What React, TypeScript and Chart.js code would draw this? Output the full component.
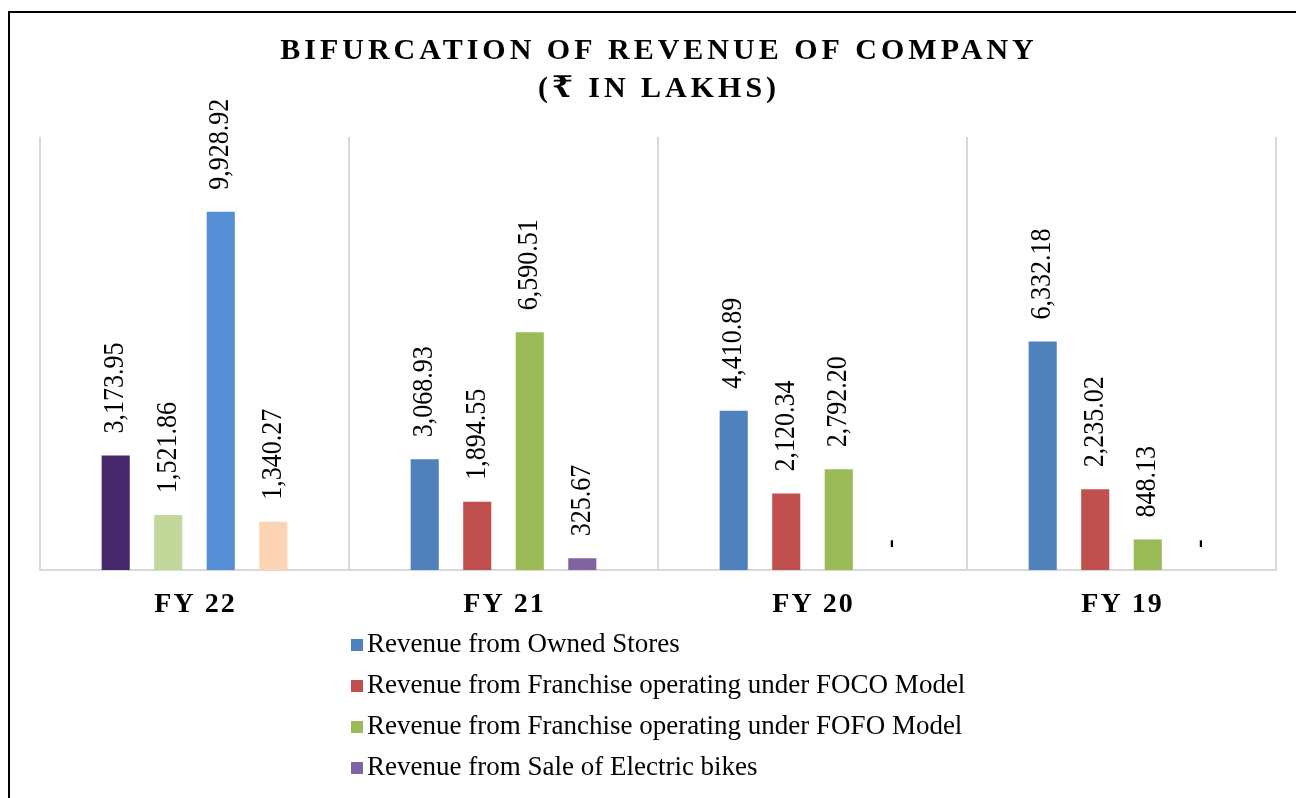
import React, { useEffect, useRef } from "react";
import { Chart, registerables } from "chart.js";

Chart.register(...registerables);

const categories = ["FY 22", "FY 21", "FY 20", "FY 19"];
const seriesNames = [
  "Revenue from Owned Stores",
  "Revenue from Franchise operating under FOCO Model",
  "Revenue from Franchise operating under FOFO Model",
  "Revenue from Sale of Electric bikes",
];
const ownedStores = [3173.95, 3068.93, 4410.89, 6332.18];
const focoModel = [1521.86, 1894.55, 2120.34, 2235.02];
const fofoModel = [9928.92, 6590.51, 2792.2, 848.13];
const electricBikes = [1340.27, 325.67, 0, 0];

const seriesColors = ["#4F81BD", "#C0504D", "#9BBB59", "#8064A2"];
const fy22Colors = ["#48286C", "#C4D79B", "#558ED5", "#FBD4B4"];
const titleLines = ["BIFURCATION OF REVENUE OF COMPANY", "(₹ IN LAKHS)"];

const SERIF = "'Liberation Serif', 'Times New Roman', 'DejaVu Serif', serif";

const fmt = (v: number) =>
  v === 0
    ? "-"
    : v.toLocaleString("en-US", { minimumFractionDigits: 2, maximumFractionDigits: 2 });

const customDraw = {
  id: "customDraw",
  afterDraw(chart: any) {
    const ctx = chart.ctx as CanvasRenderingContext2D;
    // Title
    ctx.save();
    ctx.fillStyle = "#000";
    ctx.font = `bold 30px ${SERIF}`;
    ctx.textAlign = "center";
    ctx.textBaseline = "middle";
    (ctx as any).letterSpacing = "4px";
    ctx.fillText(titleLines[0], 649, 38);
    ctx.fillText(titleLines[1], 649, 76);
    ctx.restore();

    // X labels
    const xs = chart.scales.x;
    ctx.save();
    ctx.fillStyle = "#000";
    ctx.font = `bold 28px ${SERIF}`;
    ctx.textAlign = "center";
    ctx.textBaseline = "middle";
    (ctx as any).letterSpacing = "2px";
    categories.forEach((c, i) => {
      ctx.fillText(c, xs.getPixelForTick(i) + 1, 592);
    });
    ctx.restore();

    // Data labels
    ctx.save();
    ctx.fillStyle = "#000";
    ctx.font = `26px ${SERIF}`;
    ctx.textAlign = "left";
    ctx.textBaseline = "middle";
    chart.data.datasets.forEach((ds: any, di: number) => {
      const meta = chart.getDatasetMeta(di);
      meta.data.forEach((bar: any, i: number) => {
        const v = ds.data[i];
        ctx.save();
        ctx.translate(bar.x, bar.y - 22);
        ctx.rotate(-Math.PI / 2);
        ctx.scale(1, 1.12);
        ctx.fillText(fmt(v), 0, 0);
        ctx.restore();
      });
    });
    ctx.restore();

    // Legend
    ctx.save();
    ctx.font = `27px ${SERIF}`;
    ctx.textAlign = "left";
    ctx.textBaseline = "middle";
    seriesNames.forEach((name, i) => {
      const cy = 632 + i * 41;
      ctx.fillStyle = seriesColors[i];
      ctx.fillRect(341, cy - 6, 12, 12);
      ctx.fillStyle = "#000";
      ctx.fillText(name, 357, cy);
    });
    ctx.restore();
  },
};

export default function App() {
  const ref = useRef<HTMLCanvasElement | null>(null);
  useEffect(() => {
    if (!ref.current) return;
    const seriesData = [ownedStores, focoModel, fofoModel, electricBikes];
    const chart = new Chart(ref.current, {
      type: "bar",
      data: {
        labels: categories,
        datasets: seriesData.map((d, si) => ({
          label: seriesNames[si],
          data: d,
          backgroundColor: d.map((_, ci) => (ci === 0 ? fy22Colors[si] : seriesColors[si])),
          borderWidth: 0,
          categoryPercentage: 0.68,
          barPercentage: 0.535,
        })),
      },
      options: {
        animation: false,
        responsive: false,
        maintainAspectRatio: false,
        layout: { padding: { left: 30, right: 20, top: 124, bottom: 228 } },
        plugins: {
          legend: { display: false },
          title: { display: false },
          tooltip: { enabled: false },
        },
        scales: {
          x: {
            display: true,
            grid: {
              display: true,
              offset: true,
              color: "#D9D9D9",
              lineWidth: 2,
              drawTicks: false,
              tickLength: 0,
            },
            border: { display: true, color: "#D9D9D9", width: 2 },
            ticks: { display: false },
          },
          y: {
            display: false,
            min: 0,
            max: 12000,
          },
        },
      },
      plugins: [customDraw],
    });
    return () => chart.destroy();
  }, []);

  return (
    <div
      style={{
        position: "fixed",
        left: 8,
        top: 11,
        width: 1288,
        height: 787,
        boxSizing: "border-box",
        borderTop: "2px solid #000",
        borderLeft: "2px solid #000",
        background: "#fff",
      }}
    >
      <canvas ref={ref} width={1286} height={785} style={{ display: "block" }} />
    </div>
  );
}
